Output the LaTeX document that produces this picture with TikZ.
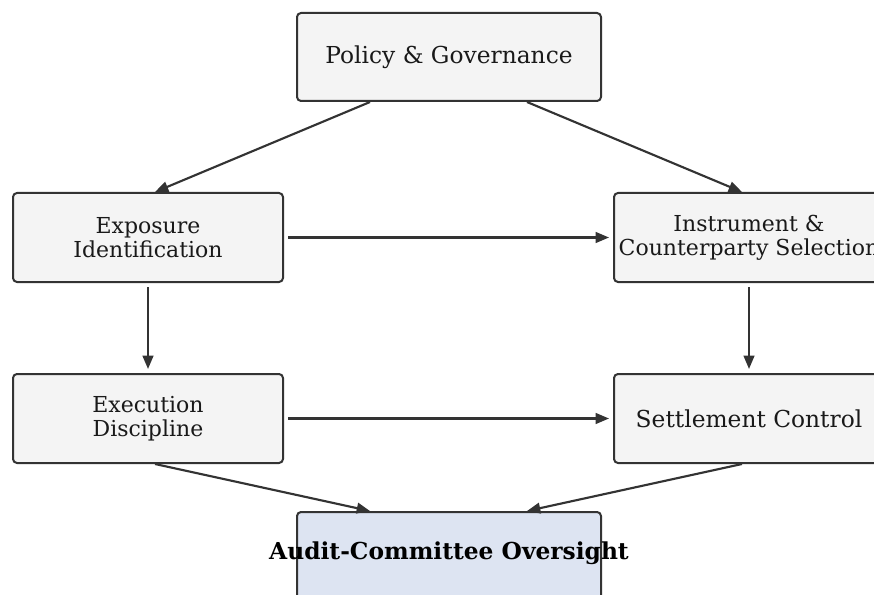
\documentclass[tikz,border=0pt]{standalone}
\usepackage{fontspec}
\setmainfont{DejaVu Serif}
\usetikzlibrary{arrows.meta}
\definecolor{edge}{HTML}{333333}
\definecolor{boxfill}{HTML}{F4F4F4}
\definecolor{auditfill}{HTML}{DDE4F2}
\tikzset{
  stepbox/.style={draw=edge, line width=1.5pt, fill=boxfill, rounded corners=3pt,
    minimum width=270*0.75pt, minimum height=89*0.75pt, inner sep=0pt},
  widebox/.style={stepbox, minimum width=304*0.75pt, minimum height=88*0.75pt},
  steptext/.style={align=center, inner sep=0pt, font=\fontsize{17.5}{18.75}\selectfont, text=black!90},
  twoline/.style={steptext, font=\fontsize{16.5}{18}\selectfont},
  flow/.style={draw=edge, line width=1.6pt, -{Triangle[length=10pt,width=8pt]}}
}
\begin{document}
\begin{tikzpicture}[x=0.75pt, y=-0.75pt]
  \useasboundingbox (0,0) rectangle (874,595);
  \clip (0,0) rectangle (874,595);
  % boxes
  \node[widebox] (pol) at (449,57) {};
  \node[stepbox] (exp) at (148,237.5) {};
  \node[stepbox] (ins) at (749,237.5) {};
  \node[stepbox] (exe) at (148,418.5) {};
  \node[stepbox] (set) at (749,418.5) {};
  \node[widebox, fill=auditfill, minimum height=120*0.75pt, anchor=north] (aud) at (449,511) {};
  % labels, set apart so that long lines may run past the frames
  \node[steptext] (polt) at (pol.center) {Policy \& Governance};
  \node[twoline] (expt) at (exp.center) {Exposure\\Identification};
  \node[twoline] (inst) at (ins.center) {Instrument \&\\Counterparty Selection};
  \node[twoline] (exet) at (exe.center) {Execution\\Discipline};
  \node[steptext] (sett) at (set.center) {Settlement Control};
  \node[steptext, font=\fontsize{17.5}{18.75}\selectfont\bfseries, text=black] (audt) at (449,553) {Audit-Committee Oversight};
  % connectors
  \draw[flow] ([xshift=-79*0.75pt]pol.south) -- ([xshift=7*0.75pt]exp.north);
  \draw[flow] ([xshift=78*0.75pt]pol.south) -- ([xshift=-7*0.75pt]ins.north);
  \draw[flow] ([xshift=3pt]exp.east) -- ([xshift=-3pt]ins.west);
  \draw[flow] ([yshift=-3pt]exp.south) -- ([yshift=3pt]exe.north);
  \draw[flow] ([yshift=-3pt]ins.south) -- ([yshift=3pt]set.north);
  \draw[flow] ([xshift=3pt]exe.east) -- ([xshift=-3pt]set.west);
  \draw[flow] ([xshift=7*0.75pt]exe.south) -- ([xshift=-79*0.75pt]aud.north);
  \draw[flow] ([xshift=-7*0.75pt]set.south) -- ([xshift=78*0.75pt]aud.north);
\end{tikzpicture}
\end{document}
